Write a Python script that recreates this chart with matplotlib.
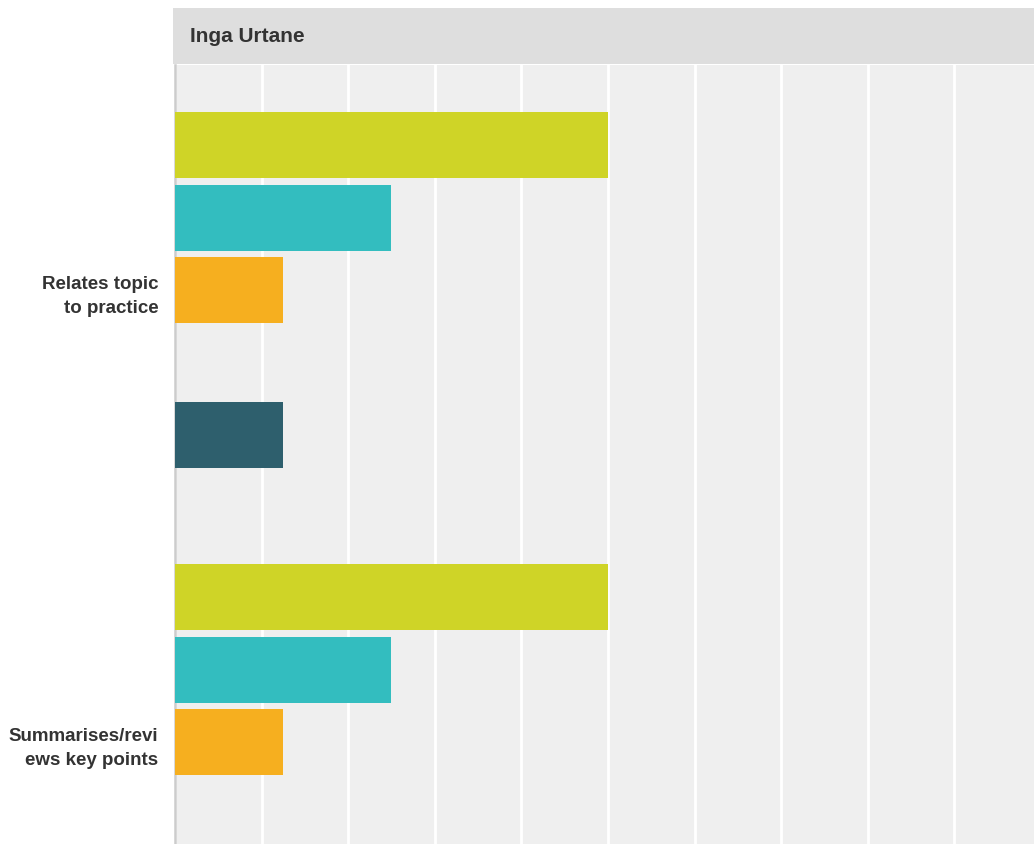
import matplotlib
matplotlib.use("Agg")
import matplotlib.pyplot as plt
from matplotlib.patches import Rectangle

# ---- data ----
title = "Inga Urtane"
categories = ["Relates topic\nto practice", "Summarises/revi\news key points"]
series_colors = ["#cfd427", "#33bdbf", "#f6af1f", "#8e6aa8", "#2e5f6d"]
series_values = [
    [50.0, 50.0],   # series 1 (green)
    [25.0, 25.0],   # series 2 (teal)
    [12.5, 12.5],   # series 3 (orange)
    [0.0, 0.0],     # series 4 (empty)
    [12.5, 12.5],   # series 5 (dark teal)
]
x_ticks = [0, 10, 20, 30, 40, 50, 60, 70, 80, 90]

W, H = 1034, 845
fig = plt.figure(figsize=(W / 100, H / 100), dpi=100)
plt.rcParams['font.family'] = ['Liberation Sans', 'DejaVu Sans']

ax_left = 175 / W
ax_top = 65 / H
ax = fig.add_axes([ax_left, -1 / H, 1 - ax_left, 1 - ax_top])
ax.set_facecolor("#efefef")

step = 72.5 / 452
bh = 66 / 452
n = len(series_values)
for j, (vals, col) in enumerate(zip(series_values, series_colors)):
    ys = [i + (j - (n - 1) / 2) * step for i in range(len(categories))]
    ax.barh(ys, vals, height=bh, color=col, zorder=3, linewidth=0)

ax.set_xticks(x_ticks)
ax.set_xlim(0, 99.2)
ax.set_ylim((845 - 290) / 452, (65 - 290) / 452)
ax.xaxis.grid(True, color="white", linewidth=2.0, zorder=1)
ax.set_axisbelow(True)
ax.tick_params(axis="x", length=0, labelbottom=False)
ax.set_yticks(range(len(categories)))
ax.set_yticklabels(categories, fontsize=13.5, fontweight="bold", color="#333333",
                   multialignment="right", linespacing=1.55)
ax.tick_params(axis="y", length=0, pad=12)
for s in ["top", "right", "bottom"]:
    ax.spines[s].set_visible(False)
ax.spines["left"].set_color("#cccccc")
ax.spines["left"].set_linewidth(1.8)

# header band
fig.patches.append(Rectangle((173 / W, 1 - 65 / H), 1 - 173 / W, 56 / H,
                             transform=fig.transFigure, facecolor="#dedede",
                             edgecolor="none", zorder=0))
fig.text(190 / W, 1 - 36 / H, title, fontsize=15, fontweight="bold",
         color="#333333", va="center", ha="left")

fig.savefig("out.png", dpi=100)
